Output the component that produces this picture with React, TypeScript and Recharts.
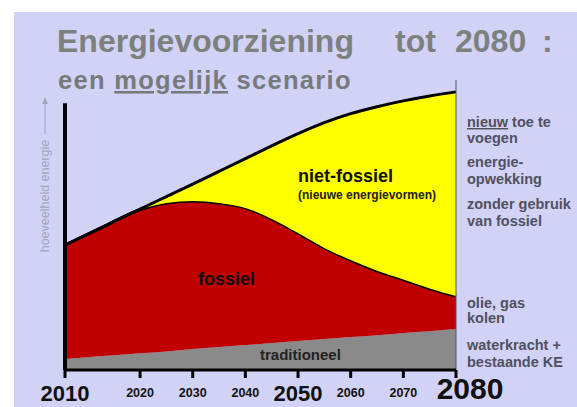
import React from 'react';
import { AreaChart, Area, XAxis, YAxis, ReferenceLine } from 'recharts';

// values (index units, 0 = x-axis)
const years = [2010, 2015, 2020, 2025, 2030, 2035, 2040, 2045, 2050, 2055, 2060, 2065, 2070, 2075, 2080];
const traditioneel = [3.8, 4.8, 5.8, 6.4, 7.2, 7.9, 8.6, 9.3, 10.0, 10.7, 11.4, 12.0, 12.8, 13.4, 14.1];
const fossiel = [39.3, 44.5, 49.5, 51.2, 51.1, 49.7, 47.3, 42.8, 37.2, 31.4, 26.5, 22.2, 18.4, 14.7, 11.4];
const nietFossiel = [0, 0, 0.2, 2.2, 5.8, 10.9, 17.0, 25.2, 34.3, 43.2, 50.5, 56.6, 61.6, 66.4, 70.4];
const tickYears = [2010, 2020, 2030, 2040, 2050, 2060, 2070, 2080];
const axisTop = 92;

// the first decade on the original axis is drawn wider than the others
const knotYears = [2010, 2020, 2080];
const knotFrac = [0, 0.192, 1];

const data = years.map((year, i) => ({
  year,
  traditioneel: traditioneel[i],
  fossiel: fossiel[i],
  nietFossiel: nietFossiel[i],
}));

function stretchedScale(): any {
  let dom = [2010, 2080];
  let rng = [0, 1];
  const frac = (v: number) => {
    if (v <= knotYears[0]) return knotFrac[0] + ((v - knotYears[0]) / (knotYears[1] - knotYears[0])) * (knotFrac[1] - knotFrac[0]);
    for (let i = 1; i < knotYears.length; i++) {
      if (v <= knotYears[i] || i === knotYears.length - 1) {
        const t = (v - knotYears[i - 1]) / (knotYears[i] - knotYears[i - 1]);
        return knotFrac[i - 1] + t * (knotFrac[i] - knotFrac[i - 1]);
      }
    }
    return 1;
  };
  const s: any = (v: number) => rng[0] + frac(Number(v)) * (rng[1] - rng[0]);
  s.domain = (d?: any[]) => {
    if (d === undefined) return dom.slice();
    dom = d.map(Number);
    return s;
  };
  s.range = (r?: number[]) => {
    if (r === undefined) return rng.slice();
    rng = r.slice();
    return s;
  };
  s.copy = () => stretchedScale().domain(dom).range(rng);
  s.ticks = () => tickYears.slice();
  s.nice = () => s;
  s.clamp = () => s;
  s.invert = (px: number) => {
    const f = (px - rng[0]) / (rng[1] - rng[0]);
    for (let i = 1; i < knotYears.length; i++) {
      if (f <= knotFrac[i] || i === knotYears.length - 1) {
        const t = (f - knotFrac[i - 1]) / (knotFrac[i] - knotFrac[i - 1]);
        return knotYears[i - 1] + t * (knotYears[i] - knotYears[i - 1]);
      }
    }
    return dom[1];
  };
  return s;
}

const FONT = '"Liberation Sans", Arial, sans-serif';

const YearTick = (props: any) => {
  const { x, y, payload } = props;
  const v = payload.value;
  let size = 12.5;
  let dy = 17;
  let dx = 0;
  if (v === 2010 || v === 2050) {
    size = 22;
    dy = 21;
  }
  if (v === 2080) {
    size = 30;
    dy = 19;
    dx = 14;
  }
  return (
    <text x={x + dx} y={y + dy} textAnchor="middle" fontFamily={FONT} fontWeight="bold" fontSize={size} fill="#111">
      {v}
    </text>
  );
};

const titleText = { fontFamily: FONT, fontWeight: 'bold' as const, fontSize: 32, fill: '#7c817d' };
const sideText = { fontFamily: FONT, fontWeight: 'bold' as const, fontSize: 14.5, fill: '#50505e' };

export default function App() {
  return (
    <div style={{ position: 'absolute', left: 0, top: 0, width: 577, height: 407, background: '#fff', overflow: 'hidden' }}>
      <div style={{ position: 'absolute', left: 14, top: 12, width: 563, height: 395, background: '#d2d2f7' }} />
      <div style={{ position: 'absolute', left: 0, top: 0 }}>
        <AreaChart width={577} height={407} data={data} margin={{ top: 80, right: 121, left: 65, bottom: 0 }}>
          <XAxis
            dataKey="year"
            type="number"
            domain={[2010, 2080]}
            scale={stretchedScale()}
            ticks={tickYears}
            height={37}
            axisLine={{ stroke: '#000', strokeWidth: 3 }}
            tickLine={{ stroke: '#000', strokeWidth: 3 }}
            tickSize={8}
            tick={<YearTick />}
            interval={0}
          />
          <YAxis type="number" domain={[0, 100]} hide width={0} />
          <Area
            type="monotone"
            dataKey="traditioneel"
            stackId="1"
            fill="#8a8a8a"
            fillOpacity={1}
            stroke="none"
            isAnimationActive={false}
          />
          <Area
            type="monotone"
            dataKey="fossiel"
            stackId="1"
            fill="#c00000"
            fillOpacity={1}
            stroke="#000"
            strokeWidth={3}
            isAnimationActive={false}
          />
          <Area
            type="monotone"
            dataKey="nietFossiel"
            stackId="1"
            fill="#ffff00"
            fillOpacity={1}
            stroke="#000"
            strokeWidth={3}
            isAnimationActive={false}
          />
          <ReferenceLine x={2080} stroke="#55556a" strokeWidth={1} />
          <ReferenceLine
            segment={[
              { x: 2010, y: 0 },
              { x: 2010, y: axisTop },
            ]}
            stroke="#000"
            strokeWidth={4}
          />
        </AreaChart>
      </div>
      <svg width={577} height={407} style={{ position: 'absolute', left: 0, top: 0, pointerEvents: 'none' }}>
        <text x={57} y={52} {...titleText}>Energievoorziening</text>
        <text x={395} y={52} {...titleText}>tot</text>
        <text x={455} y={52} {...titleText}>2080</text>
        <text x={542} y={52} {...titleText}>:</text>
        <text x={58} y={89} fontFamily={FONT} fontWeight="bold" fontSize={25.5} letterSpacing={1.3} fill="#767a7b" style={{ whiteSpace: 'pre' }}>
          een <tspan textDecoration="underline">mogelijk</tspan> scenario
        </text>

        {/* y-axis label with arrow */}
        <text
          transform="translate(49,196) rotate(-90)"
          textAnchor="middle"
          fontFamily={FONT}
          fontSize={12.5}
          fill="#a4a4be"
        >
          hoeveelheid energie
        </text>
        <line x1={45} y1={134} x2={45} y2={102} stroke="#a4a4be" strokeWidth={1} />
        <path d="M42,104 L48,104 L45,97 Z" fill="#a4a4be" />

        {/* labels inside the areas */}
        <text x={298} y={182} fontFamily={FONT} fontWeight="bold" fontSize={18} fill="#111">niet-fossiel</text>
        <text x={298} y={199} fontFamily={FONT} fontWeight="bold" fontSize={12} fill="#222">(nieuwe energievormen)</text>
        <text x={198} y={285} fontFamily={FONT} fontWeight="bold" fontSize={18} fill="#111">fossiel</text>
        <text x={260} y={360} fontFamily={FONT} fontWeight="bold" fontSize={15} fill="#222">traditioneel</text>

        {/* right-hand notes */}
        <text x={467} y={127} {...sideText}>
          <tspan textDecoration="underline">nieuw</tspan> toe te
        </text>
        <text x={467} y={143} {...sideText}>voegen</text>
        <text x={467} y={167} {...sideText}>energie-</text>
        <text x={467} y={184} {...sideText}>opwekking</text>
        <text x={467} y={209} {...sideText}>zonder gebruik</text>
        <text x={467} y={226} {...sideText}>van fossiel</text>
        <text x={467} y={308} {...sideText}>olie, gas</text>
        <text x={467} y={323} {...sideText}>kolen</text>
        <text x={467} y={350} {...sideText}>waterkracht +</text>
        <text x={467} y={367} {...sideText}>bestaande KE</text>
      </svg>
    </div>
  );
}
